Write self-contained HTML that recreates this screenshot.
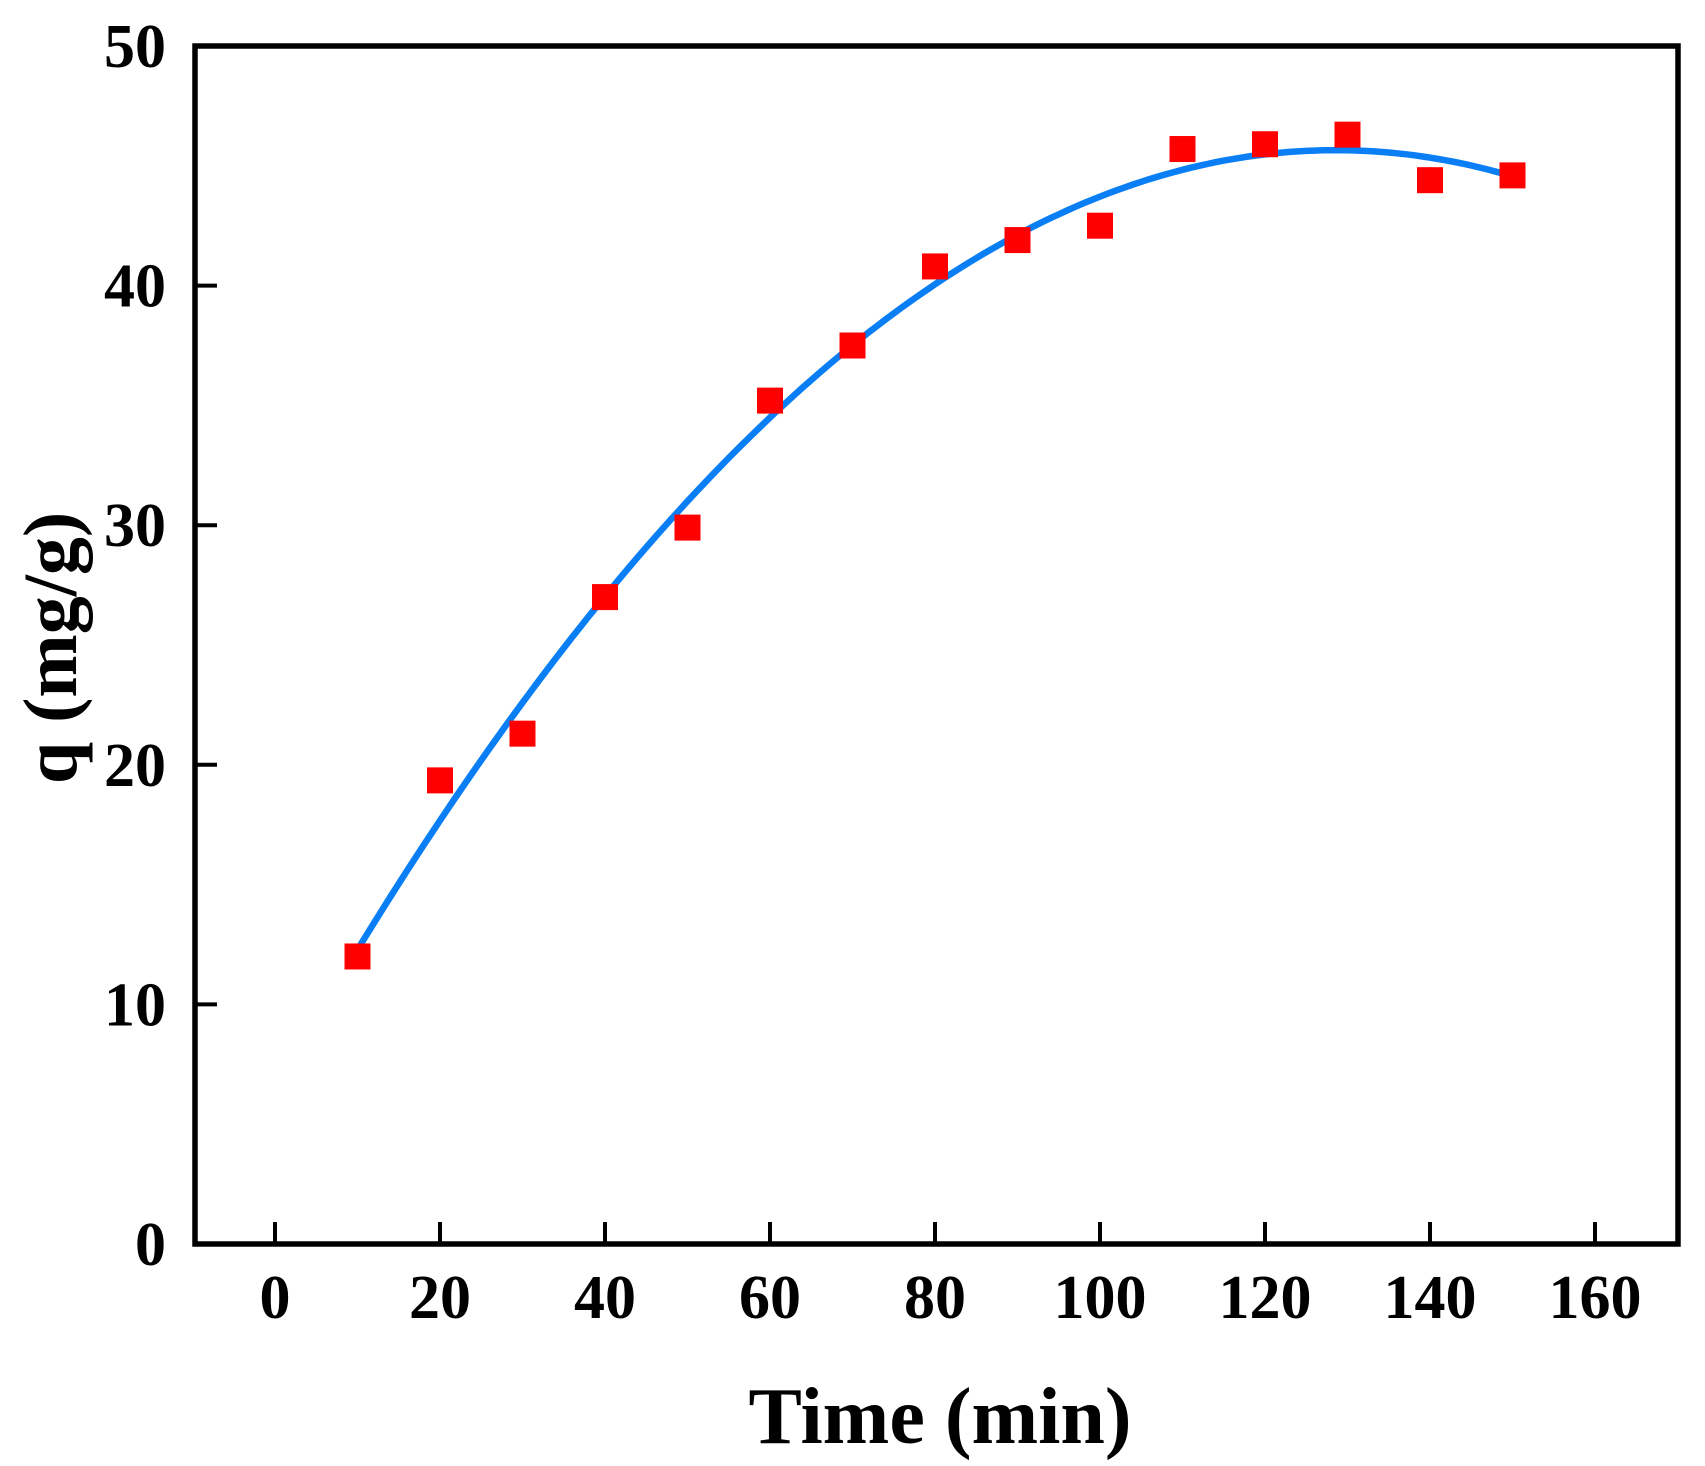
<!DOCTYPE html>
<html><head><meta charset="utf-8"><style>
html,body{margin:0;padding:0;background:#fff;}
svg{display:block;}
text{font-family:"Liberation Serif","Times New Roman",serif;font-weight:bold;fill:#000;}
</style></head>
<body>
<svg id="chart" width="1705" height="1466" viewBox="0 0 1705 1466" xmlns="http://www.w3.org/2000/svg">
<rect x="0" y="0" width="1705" height="1466" fill="#fff"/>
<g id="plot"></g>
<rect x="195" y="46" width="1483" height="1198" fill="none" stroke="#000" stroke-width="5.5"/>
<g id="axes"></g>
<text x="940" y="1443" font-size="80" text-anchor="middle">Time (min)</text>
<text transform="translate(76,648) rotate(-90)" x="0" y="0" font-size="76" text-anchor="middle">q (mg/g)</text>
</svg>
<script>
const times = [10,20,30,40,50,60,70,80,90,100,110,120,130,140,150];
const qValues = [12.0,19.35,21.3,27.0,29.9,35.2,37.5,40.8,41.9,42.5,45.7,45.9,46.3,44.4,44.6];
const xTicks = [0,20,40,60,80,100,120,140,160];
const yTicks = [0,10,20,30,40,50];

const NS = "http://www.w3.org/2000/svg";
function xs(v){ return 275 + v*8.25; }
function ys(v){ return 1244 - v*23.96; }
function mk(tag, attrs, parent){
  const e = document.createElementNS(NS, tag);
  for (const k in attrs) e.setAttribute(k, attrs[k]);
  parent.appendChild(e); return e;
}
const axes = document.getElementById('axes');
const plot = document.getElementById('plot');

xTicks.forEach(t=>{
  const l = mk('line',{x1:xs(t),x2:xs(t),y1:1244,y2:1222,stroke:'#000','stroke-width':4},axes);
  
  
  const tx = mk('text',{x:xs(t),y:1318,'font-size':62,'text-anchor':'middle'},axes);
  tx.textContent = t;
  
  
});
yTicks.forEach(t=>{
  if (t>0 && t<50){
    const l = mk('line',{x1:195,x2:217,y1:ys(t),y2:ys(t),stroke:'#000','stroke-width':4},axes);
    
    
  }
  const tx = mk('text',{x:166,y:ys(t)+21,'font-size':62,'text-anchor':'end'},axes);
  tx.textContent = t;
  
  
});

// quadratic least-squares fit of the data
function fitQuad(xa, ya){
  let S=[0,0,0,0,0], T=[0,0,0];
  for (let i=0;i<xa.length;i++){
    let p=1;
    for (let k=0;k<5;k++){ S[k]+=p; if(k<3) T[k]+=p*ya[i]; p*=xa[i]; }
  }
  const A=[[S[0],S[1],S[2],T[0]],[S[1],S[2],S[3],T[1]],[S[2],S[3],S[4],T[2]]];
  for (let i=0;i<3;i++){
    for (let j=i+1;j<3;j++){
      const f=A[j][i]/A[i][i];
      for (let k=i;k<4;k++) A[j][k]-=f*A[i][k];
    }
  }
  const c=[0,0,0];
  for (let i=2;i>=0;i--){
    let s=A[i][3];
    for (let k=i+1;k<3;k++) s-=A[i][k]*c[k];
    c[i]=s/A[i][i];
  }
  return c;
}
const coef = fitQuad(times, qValues);
let d='';
const t0=times[0], t1=times[times.length-1];
for (let i=0;i<=140;i++){
  const t=t0+(t1-t0)*i/140;
  const q=coef[0]+coef[1]*t+coef[2]*t*t;
  d+=(i?'L':'M')+xs(t).toFixed(1)+' '+ys(q).toFixed(1);
}
const fit = mk('path',{d:d,fill:'none',stroke:'#0a7ff5','stroke-width':6.5,'stroke-linecap':'round'},plot);



times.forEach((t,i)=>{
  const r = mk('rect',{x:xs(t)-13,y:ys(qValues[i])-13,width:26,height:26,fill:'#ff0000'},plot);
  
  
});
</script>
</body></html>
